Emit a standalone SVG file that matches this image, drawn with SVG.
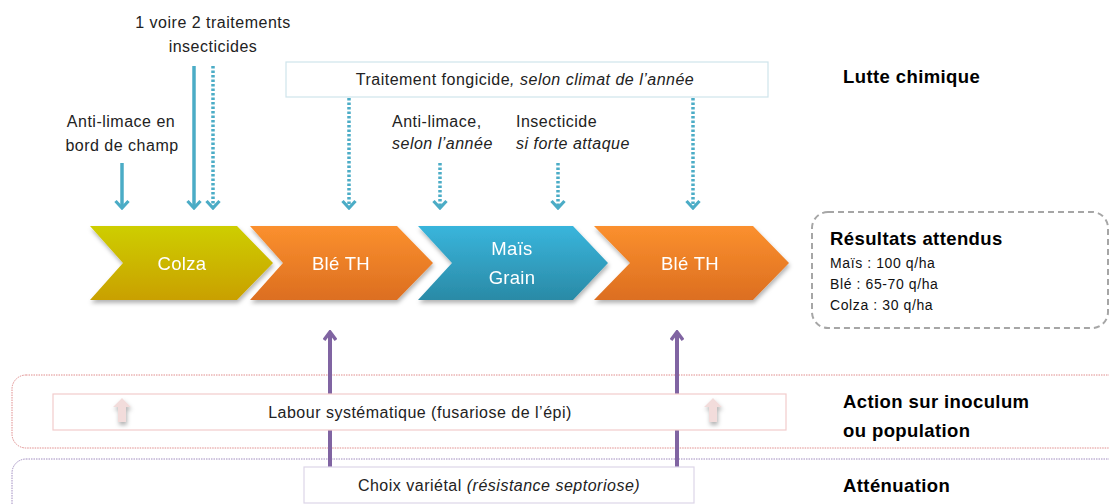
<svg xmlns="http://www.w3.org/2000/svg" width="1109" height="504" viewBox="0 0 1109 504">
<defs>
<linearGradient id="gY" x1="0" y1="0" x2="0" y2="1"><stop offset="0" stop-color="#cece00"/><stop offset="1" stop-color="#c9a000"/></linearGradient>
<linearGradient id="gO" x1="0" y1="0" x2="0" y2="1"><stop offset="0" stop-color="#fb902e"/><stop offset="1" stop-color="#dc6e20"/></linearGradient>
<linearGradient id="gB" x1="0" y1="0" x2="0" y2="1"><stop offset="0" stop-color="#39b5dc"/><stop offset="1" stop-color="#2a8aa6"/></linearGradient>
<filter id="sh" x="-10%" y="-10%" width="130%" height="140%"><feDropShadow dx="1" dy="3" stdDeviation="2" flood-color="#000" flood-opacity="0.3"/></filter>
<marker id="ab" viewBox="0 0 11 16" refX="9" refY="8" markerWidth="11" markerHeight="16" markerUnits="userSpaceOnUse" orient="auto"><polyline points="2,1.5 9,8 2,14.5" fill="none" stroke="#4bacc6" stroke-width="3.2"/></marker>
<marker id="ap" viewBox="0 0 14 12" refX="7" refY="2" markerWidth="14" markerHeight="12" markerUnits="userSpaceOnUse" orient="0"><polyline points="1,10 7,2 13,10" fill="none" stroke="#8064a2" stroke-width="3.5"/></marker>
</defs>
<style>
text{font-family:"Liberation Sans",Arial,sans-serif;fill:#222}
.lbl{font-size:16px;letter-spacing:0.5px}
.it{font-style:italic}
.h{font-size:18.5px;font-weight:bold;fill:#000;letter-spacing:0.4px}
.sm{font-size:14px;fill:#111;letter-spacing:0.6px}
.cw{font-size:18.5px;fill:#fff;text-anchor:middle;letter-spacing:0.3px}
.sol{stroke:#4bacc6;stroke-width:3.5;fill:none;marker-end:url(#ab)}
.dot{stroke:#4bacc6;stroke-width:3.5;fill:none;stroke-dasharray:2.5 2;marker-end:url(#ab)}
.pur{stroke:#8064a2;stroke-width:4;fill:none;marker-start:url(#ap)}
.box{fill:#fff}
</style>
<rect width="1109" height="504" fill="#fff"/>

<g id="bands">
<rect x="12" y="375" width="1110" height="73" rx="14" fill="none" stroke="#e08c8c" stroke-width="1" stroke-dasharray="1.5 1"/>
<rect x="12" y="459" width="1110" height="70" rx="14" fill="none" stroke="#a08cc0" stroke-width="1" stroke-dasharray="1.5 1"/>
</g>

<g id="connectors">
<line class="sol" x1="122" y1="163" x2="122" y2="208"/>
<line class="sol" x1="194" y1="66" x2="194" y2="208"/>
<line class="dot" x1="213" y1="66" x2="213" y2="208"/>
<line class="dot" x1="349" y1="98" x2="349" y2="208"/>
<line class="dot" x1="440" y1="163" x2="440" y2="208"/>
<line class="dot" x1="558" y1="163" x2="558" y2="208"/>
<line class="dot" x1="693" y1="98" x2="693" y2="208"/>
<line class="pur" x1="330" y1="332" x2="330" y2="467"/>
<line class="pur" x1="677" y1="332" x2="677" y2="467"/>
</g>

<g id="top-labels">
<text class="lbl" x="213" y="28" text-anchor="middle">1 voire 2 traitements</text>
<text class="lbl" x="213" y="52" text-anchor="middle">insecticides</text>
<text class="lbl" x="121" y="127" text-anchor="middle">Anti-limace en</text>
<text class="lbl" x="122" y="151" text-anchor="middle">bord de champ</text>
<text class="lbl" x="392" y="127">Anti-limace,</text>
<text class="lbl it" x="392" y="149">selon l’année</text>
<text class="lbl" x="516" y="127">Insecticide</text>
<text class="lbl it" x="516" y="149">si forte attaque</text>
</g>

<g id="fongicide">
<rect class="box" x="286" y="62" width="482" height="35" stroke="#cfe4ec" stroke-width="1.2"/>
<text class="lbl" x="525" y="85" text-anchor="middle">Traitement fongicide<tspan class="it">, selon climat de l’année</tspan></text>
</g>

<g id="lutte"><text class="h" x="843" y="83">Lutte chimique</text></g>

<g id="colza" filter="url(#sh)">
<polygon points="90,226 237,226 273,263 237,300 90,300 123,263" fill="url(#gY)"/>
<text class="cw" x="182" y="270">Colza</text>
</g>
<g id="ble1" filter="url(#sh)">
<polygon points="250,226 397,226 433,263 397,300 250,300 283,263" fill="url(#gO)"/>
<text class="cw" x="341" y="270">Blé TH</text>
</g>
<g id="mais" filter="url(#sh)">
<polygon points="418,226 573,226 608,263 573,300 418,300 452,263" fill="url(#gB)"/>
<text class="cw" x="512" y="255">Maïs</text>
<text class="cw" x="512" y="284">Grain</text>
</g>
<g id="ble2" filter="url(#sh)">
<polygon points="594,226 753,226 789,263 753,300 594,300 630,263" fill="url(#gO)"/>
<text class="cw" x="690" y="270">Blé TH</text>
</g>

<g id="resultats">
<rect x="812" y="212" width="296" height="116" rx="16" fill="none" stroke="#a6a6a6" stroke-width="2" stroke-dasharray="6 4"/>
<text class="h" x="830" y="245">Résultats attendus</text>
<text class="sm" x="830" y="268">Maïs : 100 q/ha</text>
<text class="sm" x="830" y="289">Blé : 65-70 q/ha</text>
<text class="sm" x="830" y="310">Colza : 30 q/ha</text>
</g>

<g id="labour">
<rect class="box" x="53" y="394" width="733" height="36" stroke="#f2cccc" stroke-width="1.2"/>
<text class="lbl" x="420" y="418" text-anchor="middle">Labour systématique (fusariose de l’épi)</text>
<g filter="url(#sh)" fill="#f2dcdb">
<polygon points="122,398 131,407 126,407 126,422 118,422 118,407 113,407"/>
<polygon points="713,398 722,407 717,407 717,422 709,422 709,407 704,407"/>
</g>
</g>
<g id="action">
<text class="h" x="843" y="408">Action sur inoculum</text>
<text class="h" x="843" y="437">ou population</text>
</g>

<g id="choix">
<rect class="box" x="304" y="467" width="390" height="36" stroke="#ddd6e8" stroke-width="1.2"/>
<text class="lbl" x="499" y="491" text-anchor="middle">Choix variétal <tspan class="it">(résistance septoriose)</tspan></text>
</g>
<g id="attenuation"><text class="h" x="843" y="492">Atténuation</text></g>
</svg>
